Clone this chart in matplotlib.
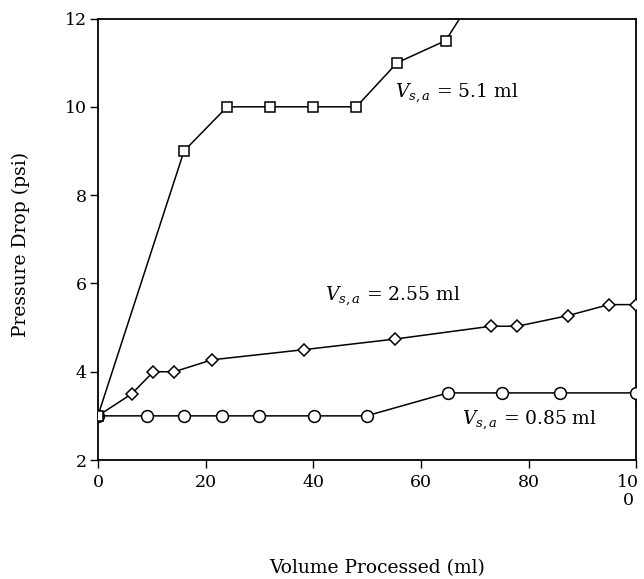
import matplotlib
matplotlib.use("Agg")
import matplotlib.pyplot as plt
from matplotlib.transforms import ScaledTranslation

plt.rcParams['font.family'] = ['DejaVu Serif']
plt.rcParams['mathtext.fontset'] = 'dejavuserif'

# Data
x_sq = [0, 16, 24, 32, 40, 48, 55.6, 64.6, 72.4]
y_sq = [3, 9, 10, 10, 10, 10, 11, 11.5, 13]

x_di = [0, 6.3, 10.3, 14.2, 21.2, 38.3, 55.2, 73.0, 77.9, 87.3, 94.9, 100]
y_di = [3, 3.5, 4.0, 4.0, 4.27, 4.5, 4.74, 5.03, 5.03, 5.27, 5.52, 5.52]

x_ci = [0, 9.2, 16, 23.1, 30, 40.2, 49.9, 65, 75, 85.9, 100]
y_ci = [3, 3, 3, 3, 3, 3, 3, 3.52, 3.52, 3.52, 3.52]

x_ticks = [0, 20, 40, 60, 80, 100]
x_ticklabels = ['0', '20', '40', '60', '80', '10\n0']
y_ticks = [2, 4, 6, 8, 10, 12]

fig = plt.figure(figsize=(6.44, 5.79), dpi=100)
ax = fig.add_axes([0.152, 0.2055, 0.836, 0.7625])

ax.plot(x_ci, y_ci, '-', color='black', lw=1.1, marker='o', ms=8.5,
        mfc='white', mec='black', mew=1.1, zorder=3)
ax.plot(x_di, y_di, '-', color='black', lw=1.1, marker='D', ms=6,
        mfc='white', mec='black', mew=1.1, zorder=3)
ax.plot(x_sq, y_sq, '-', color='black', lw=1.1, marker='s', ms=7.5,
        mfc='white', mec='black', mew=1.1, zorder=4)

ax.set_xlim(0, 100)
ax.set_ylim(2, 12)
ax.set_xticks(x_ticks)
ax.set_xticklabels(x_ticklabels, linespacing=1.1)
ax.set_yticks(y_ticks)
ax.tick_params(direction='out', length=6, width=1.0, labelsize=12.5, pad=2)
ax.tick_params(axis='x', pad=4)
for s in ax.spines.values():
    s.set_linewidth(1.3)

# nudge the last x tick label left so it stays inside the figure
last = ax.get_xticklabels()[-1]
last.set_transform(last.get_transform() + ScaledTranslation(-6 / 72, 0, fig.dpi_scale_trans))

ax.text(55.2, 10.31, r'$V_{s,a}$' + ' = 5.1 ml', fontsize=13.5, va='center', ha='left')
ax.text(42.2, 5.7, r'$V_{s,a}$' + ' = 2.55 ml', fontsize=13.5, va='center', ha='left')
ax.text(67.6, 2.91, r'$V_{s,a}$' + ' = 0.85 ml', fontsize=13.5, va='center', ha='left')

fig.text(0.033, 0.577, 'Pressure Drop (psi)', fontsize=13.5, rotation=90,
         ha='center', va='center')
fig.text(0.585, 0.0095, 'Volume Processed (ml)', fontsize=13.5, ha='center', va='baseline')

fig.savefig('out.png', dpi=100)
